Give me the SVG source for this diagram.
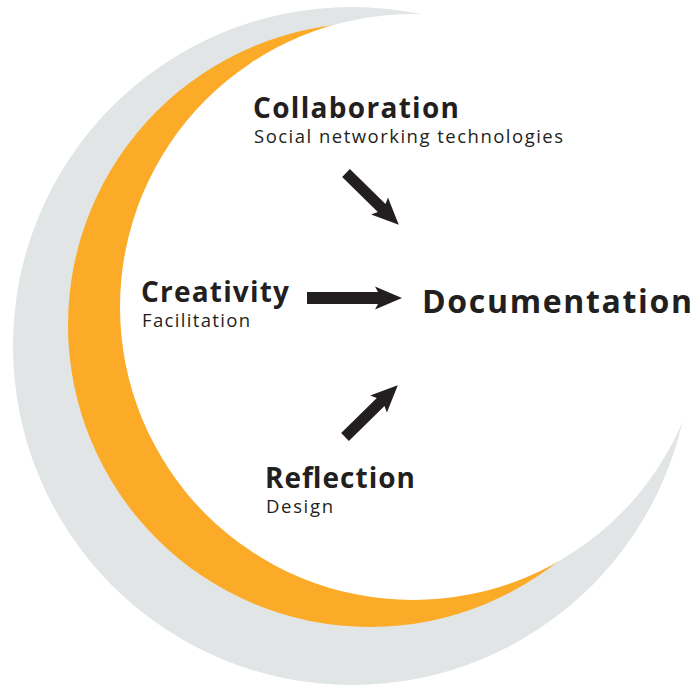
<svg xmlns="http://www.w3.org/2000/svg" width="696" height="685" viewBox="0 0 696 685">
  <defs>
    <style>
      .head { font-family: "Open Sans", "Noto Sans", "Liberation Sans", sans-serif; font-weight: 700; fill: #231f20; }
      .sub  { font-family: "Open Sans", "Noto Sans", "Liberation Sans", sans-serif; font-weight: 400; fill: #231f20; font-size: 18.5px; }
      .arrow { fill: #231f20; }
    </style>
    <!-- block arrow pointing along +x, 74 long, tail at origin -->
    <polygon id="arrow74" class="arrow" points="0,-5.5 50,-5.5 47,-12 74,0 47,12 50,5.5 0,5.5"/>
  </defs>

  <rect width="696" height="685" fill="#ffffff"/>

  <!-- crescent backdrop: grey disc, orange disc, white disc on top -->
  <g id="backdrop">
    <circle cx="352" cy="346" r="339" fill="#e1e5e6"/>
    <circle cx="370" cy="325" r="302" fill="#fbab28"/>
    <circle cx="413" cy="307" r="293" fill="#ffffff"/>
  </g>

  <g id="connectors">
    <polygon class="arrow" points="307,292 378,292 375,286.5 402,298 375,309.5 378,304 307,304"/>
    <use href="#arrow74" transform="translate(346,173) rotate(44.5)"/>
    <use href="#arrow74" transform="translate(345,437) rotate(-44.5)"/>
  </g>

  <g id="collaboration">
    <text class="head" x="253" y="118" font-size="28" textLength="206">Collaboration</text>
    <text class="sub" x="254" y="142.5" textLength="309">Social networking technologies</text>
  </g>

  <g id="creativity">
    <text class="head" x="141" y="301.5" font-size="28" textLength="148">Creativity</text>
    <text class="sub" x="142" y="327" textLength="108">Facilitation</text>
  </g>

  <g id="reflection">
    <text class="head" x="265" y="488" font-size="28" textLength="150">Reflection</text>
    <text class="sub" x="266" y="512.5" textLength="67">Design</text>
  </g>

  <g id="documentation">
    <text class="head" x="422" y="312.5" font-size="32" textLength="270">Documentation</text>
  </g>
</svg>
